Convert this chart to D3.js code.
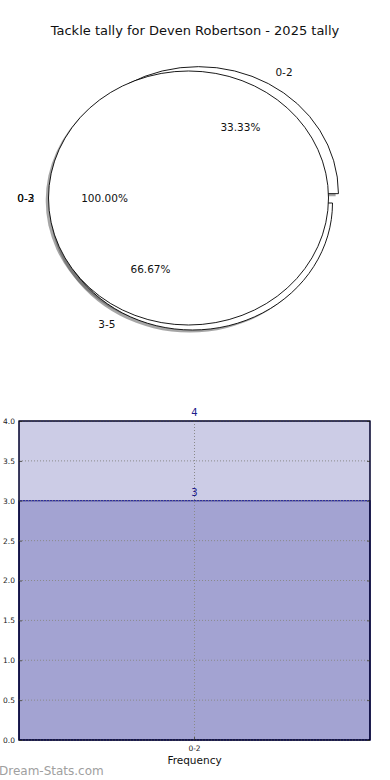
<!DOCTYPE html>
<html>
<head>
<meta charset="utf-8">
<script src="https://cdn.jsdelivr.net/npm/d3@7"></script>
<style>
  body { margin: 0; background: #fff; }
  svg { display: block; font-family: "DejaVu Sans", sans-serif; }
</style>
</head>
<body>
<div id="chart"></div>
<script>
const title = "Tackle tally for Deven Robertson - 2025 tally";

// pie drawn first: tackle ranges
const rangeLabels = ["0-2", "3-5"];
const rangeValues = [1, 2];
const rangeExplode = [0.085, 0];

// pie drawn on top: one wedge for the whole season
const totalLabels = ["0-2"];
const totalValues = [3];
const strayLabels = ["0-3"];

// bar panel
const barCategories = ["0-2"];
const barValues = [4, 3];
const yTicks = [0, 0.5, 1, 1.5, 2, 2.5, 3, 3.5, 4];
const xLabel = "Frequency";
const watermark = "Dream-Stats.com";

const W = 390, H = 780;
const svg = d3.select("#chart").append("svg")
    .attr("width", W)
    .attr("height", H);

svg.append("text")
    .attr("x", 195)
    .attr("y", 35)
    .attr("text-anchor", "middle")
    .style("font-size", "13px")
    .style("fill", "#111")
    .text(title);

// ---- pies ----
const pie = d3.pie().sort(null)
    .startAngle(Math.PI / 2)
    .endAngle(Math.PI / 2 - 2 * Math.PI);

const rx = 140, ry = 127;
const arc = d3.arc().innerRadius(0).outerRadius(rx);
const pct = d3.format(".2f");

function pieLayer(labels, values, explode, cx, cy) {
    const data = pie(values).map((d, i) => {
        const mid = (d.startAngle + d.endAngle) / 2;
        const e = explode ? explode[i] : 0;
        return {
            ...d,
            label: labels[i],
            mid: mid,
            ox: e * rx * Math.sin(mid),
            oy: -e * rx * Math.cos(mid),
            total: d3.sum(values)
        };
    });
    return {data, cx, cy};
}

const pieB = pieLayer(rangeLabels, rangeValues, rangeExplode, 192.5, 203);
const pieA = pieLayer(totalLabels, totalValues, null, 188.5, 198);

function ellipseGroup(p) {
    return svg.append("g")
        .attr("transform", `translate(${p.cx},${p.cy}) scale(1,${ry / rx})`);
}

// shadows sit under every wedge
[pieB, pieA].forEach(p => {
    ellipseGroup(p).selectAll("path")
        .data(p.data)
        .join("path")
        .attr("d", arc)
        .attr("transform", d => `translate(${d.ox - 0.02 * rx},${d.oy + 0.02 * rx})`)
        .attr("fill", "rgba(77,77,77,0.5)");
});

[pieB, pieA].forEach(p => {
    ellipseGroup(p).selectAll("path")
        .data(p.data)
        .join("path")
        .attr("d", arc)
        .attr("transform", d => `translate(${d.ox},${d.oy})`)
        .attr("fill", "#fff")
        .attr("stroke", "#000")
        .attr("stroke-width", 0.9)
        .attr("vector-effect", "non-scaling-stroke");
});

function pieText(p, extra) {
    const k = ry / rx;
    p.data.forEach(d => {
        const sx = Math.sin(d.mid), cy = -Math.cos(d.mid);
        const lx = p.cx + d.ox + 1.1 * rx * sx;
        const ly = p.cy + d.oy * k + 1.1 * ry * cy;
        const names = [d.label].concat(extra || []);
        names.forEach(n => {
            svg.append("text")
                .attr("x", lx)
                .attr("y", ly)
                .attr("dy", "0.36em")
                .attr("text-anchor", sx > 0.001 ? "start" : "end")
                .style("font-size", "10.5px")
                .style("fill", "#111")
                .text(n);
        });
        svg.append("text")
            .attr("x", p.cx + d.ox + 0.6 * rx * sx)
            .attr("y", p.cy + d.oy * k + 0.6 * ry * cy)
            .attr("dy", "0.36em")
            .attr("text-anchor", "middle")
            .style("font-size", "10.5px")
            .style("fill", "#111")
            .text(pct(d.value / d.total * 100) + "%");
    });
}
pieText(pieB);
pieText(pieA, strayLabels);

// ---- bars ----
const plot = {left: 19, right: 370, top: 421, bottom: 740};

const x = d3.scaleBand()
    .domain(barCategories)
    .range([plot.left, plot.right])
    .padding(0);

const y = d3.scaleLinear()
    .domain([0, 4])
    .range([plot.bottom, plot.top]);

const bars = svg.append("g");
barValues.forEach(v => {
    bars.append("rect")
        .attr("x", x(barCategories[0]))
        .attr("width", x.bandwidth())
        .attr("y", y(v))
        .attr("height", y(0) - y(v))
        .attr("fill", "navy")
        .attr("fill-opacity", 0.2)
        .attr("stroke", "navy")
        .attr("stroke-width", 1);
    svg.append("text")
        .attr("x", x(barCategories[0]) + x.bandwidth() / 2)
        .attr("y", y(v) - 5)
        .attr("text-anchor", "middle")
        .style("font-size", "10px")
        .style("fill", "#1c1c8c")
        .text(v);
});

// dotted grid on top of the bars
svg.append("g").selectAll("line")
    .data(yTicks)
    .join("line")
    .attr("x1", plot.left)
    .attr("x2", plot.right)
    .attr("y1", d => y(d))
    .attr("y2", d => y(d))
    .attr("stroke", "#8a8a8a")
    .attr("stroke-width", 1)
    .attr("stroke-dasharray", "1,2");

svg.append("line")
    .attr("x1", x(barCategories[0]) + x.bandwidth() / 2)
    .attr("x2", x(barCategories[0]) + x.bandwidth() / 2)
    .attr("y1", plot.top)
    .attr("y2", plot.bottom)
    .attr("stroke", "#8a8a8a")
    .attr("stroke-width", 1)
    .attr("stroke-dasharray", "1,2");

// axes
const yAxisL = svg.append("g")
    .attr("transform", `translate(${plot.left},0)`)
    .call(d3.axisLeft(y).tickValues(yTicks).tickFormat(d3.format(".1f")).tickSizeInner(-3).tickSizeOuter(0).tickPadding(4));
const yAxisR = svg.append("g")
    .attr("transform", `translate(${plot.right},0)`)
    .call(d3.axisRight(y).tickValues(yTicks).tickFormat("").tickSizeInner(-3).tickSizeOuter(0));
const xAxis = svg.append("g")
    .attr("transform", `translate(0,${plot.bottom})`)
    .call(d3.axisBottom(x).tickSizeInner(-3).tickSizeOuter(0).tickPadding(6));

[yAxisL, yAxisR, xAxis].forEach(a => {
    a.select(".domain").remove();
    a.selectAll(".tick line").attr("stroke", "#555");
    a.selectAll(".tick text")
        .style("font-family", "DejaVu Sans, sans-serif")
        .style("font-size", "7.5px")
        .style("fill", "#222");
});

svg.append("rect")
    .attr("x", plot.left)
    .attr("y", plot.top)
    .attr("width", plot.right - plot.left)
    .attr("height", plot.bottom - plot.top)
    .attr("fill", "none")
    .attr("stroke", "#000")
    .attr("stroke-width", 1);

svg.append("text")
    .attr("x", (plot.left + plot.right) / 2)
    .attr("y", 764)
    .attr("text-anchor", "middle")
    .style("font-size", "10.5px")
    .style("fill", "#111")
    .text(xLabel);

svg.append("text")
    .attr("x", -1)
    .attr("y", 775)
    .style("font-size", "12px")
    .style("fill", "#a0a0a0")
    .text(watermark);
</script>
</body>
</html>
